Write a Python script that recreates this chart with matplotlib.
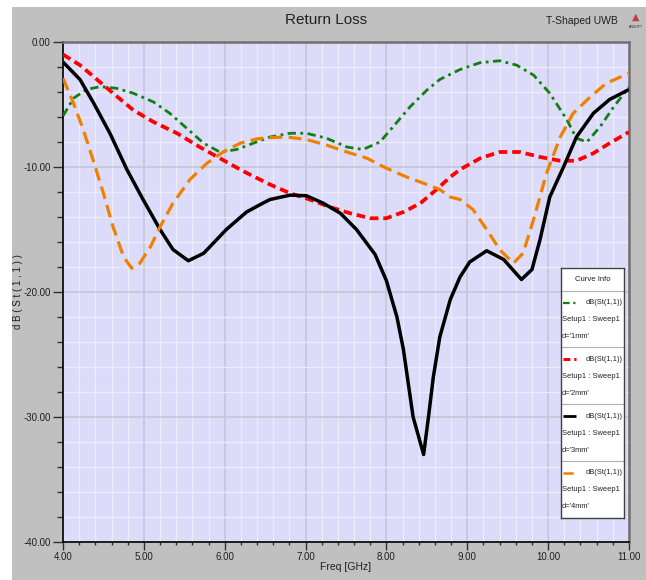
import matplotlib
matplotlib.use("Agg")
import matplotlib.pyplot as plt
from matplotlib.patches import Rectangle
from matplotlib.ticker import MultipleLocator, FormatStrFormatter

# ---- data: frequency (GHz) and return loss dB(S(1,1)) for each slot width d ----
freq_d1 = [4.00, 4.02, 4.13, 4.29, 4.46, 4.66, 4.87, 5.12, 5.32, 5.53, 5.74, 5.94,
           6.15, 6.31, 6.56, 6.81, 7.01, 7.26, 7.51, 7.71, 7.92, 8.08, 8.29, 8.50,
           8.66, 8.91, 9.16, 9.40, 9.61, 9.82, 10.02, 10.23, 10.35, 10.48, 10.64,
           10.81, 11.00]
db_d1 = [-5.9, -5.7, -4.5, -3.8, -3.57, -3.7, -4.1, -4.8, -5.7, -6.9, -8.1, -8.8,
         -8.6, -8.2, -7.6, -7.3, -7.3, -7.7, -8.4, -8.6, -8.0, -6.8, -5.2, -3.85,
         -3.0, -2.2, -1.65, -1.5, -1.85, -2.65, -4.1, -6.2, -7.7, -8.0, -6.8,
         -5.2, -3.6]

freq_d2 = [4.00, 4.21, 4.42, 4.62, 4.87, 5.12, 5.41, 5.69, 5.94, 6.19, 6.31, 6.56,
           6.81, 7.05, 7.30, 7.55, 7.80, 8.00, 8.21, 8.42, 8.62, 8.79, 8.91, 9.16,
           9.40, 9.65, 9.90, 10.15, 10.35, 10.56, 10.76, 11.00]
db_d2 = [-1.0, -1.85, -3.0, -4.1, -5.45, -6.4, -7.3, -8.4, -9.3, -10.2, -10.6, -11.4,
         -12.1, -12.6, -13.2, -13.7, -14.1, -14.1, -13.6, -12.9, -11.8, -10.8, -10.2,
         -9.3, -8.8, -8.8, -9.2, -9.5, -9.5, -8.9, -8.1, -7.2]

freq_d3 = [4.00, 4.21, 4.38, 4.58, 4.79, 4.99, 5.20, 5.36, 5.55, 5.74, 6.02, 6.27,
           6.44, 6.56, 6.81, 7.01, 7.22, 7.43, 7.63, 7.86, 8.00, 8.13, 8.21, 8.27,
           8.33, 8.46, 8.52, 8.58, 8.66, 8.79, 8.91, 9.03, 9.24, 9.45, 9.67, 9.80,
           9.90, 10.02, 10.19, 10.35, 10.56, 10.76, 11.00]
db_d3 = [-1.6, -3.0, -4.9, -7.3, -10.2, -12.6, -15.0, -16.6, -17.5, -16.9, -15.0, -13.6,
         -13.0, -12.6, -12.25, -12.3, -12.9, -13.7, -15.0, -17.0, -19.1, -22.0, -24.6,
         -27.3, -30.0, -33.0, -30.0, -26.8, -23.6, -20.6, -18.8, -17.6, -16.7, -17.4,
         -19.0, -18.2, -15.8, -12.4, -10.0, -7.6, -5.7, -4.6, -3.8]

freq_d4 = [4.00, 4.13, 4.25, 4.37, 4.50, 4.62, 4.75, 4.85, 4.95, 5.08, 5.20, 5.36,
           5.57, 5.78, 5.98, 6.19, 6.40, 6.56, 6.77, 7.01, 7.26, 7.51, 7.76, 8.00,
           8.25, 8.50, 8.66, 8.79, 8.91, 9.07, 9.24, 9.40, 9.57, 9.69, 9.82, 9.98,
           10.15, 10.31, 10.52, 10.72, 11.00]
db_d4 = [-2.9, -4.9, -7.0, -9.4, -12.1, -14.8, -17.2, -18.1, -17.7, -16.4, -14.8, -12.9,
         -11.0, -9.7, -8.8, -8.1, -7.75, -7.65, -7.6, -7.8, -8.25, -8.8, -9.3, -10.1,
         -10.8, -11.4, -11.8, -12.4, -12.6, -13.4, -15.0, -16.6, -17.7, -16.9, -14.2,
         -10.5, -7.6, -5.7, -4.4, -3.3, -2.5]

trace_name = "dB(St(1,1))"
sweep_name = "Setup1 : Sweep1"
variants = ["d='1mm'", "d='2mm'", "d='3mm'", "d='4mm'"]
x_ticks = [4.0, 5.0, 6.0, 7.0, 8.0, 9.0, 10.0, 11.0]
y_ticks = [0.0, -10.0, -20.0, -30.0, -40.0]

plt.rcParams["font.family"] = ["Liberation Sans", "DejaVu Sans"]
TXT = "#202020"

W, H = 646, 580
fig = plt.figure(figsize=(W / 100, H / 100), dpi=100)
fig.patch.set_facecolor("white")

# grey report panel
fig.patches.append(Rectangle((12 / W, 0), 1 - 12 / W, 1 - 7 / H,
                             transform=fig.transFigure, facecolor="#c0c0c0",
                             edgecolor="none", zorder=-10))

ax = fig.add_axes([63 / W, 1 - 542 / H, (629 - 63) / W, (542 - 42) / H])
ax.set_facecolor("#dcdcfa")

styles = [
    dict(color="#108010", lw=2.0, dashes=(3.0, 1.6, 1.0, 1.6)),
    dict(color="#ff0000", lw=2.7, dashes=(2.3, 1.3)),
    dict(color="#000000", lw=2.5),
    dict(color="#f08000", lw=2.3, dashes=(4.0, 2.0)),
]
series = [(freq_d1, db_d1), (freq_d2, db_d2), (freq_d3, db_d3), (freq_d4, db_d4)]
for (fx, fy), st in zip(series, styles):
    ax.plot(fx, fy, **st, solid_capstyle="butt", dash_capstyle="butt",
            solid_joinstyle="round", zorder=3)

ax.set_xlim(4.0, 11.0)
ax.set_ylim(-40.0, 0.0)
ax.set_xticks(x_ticks)
ax.set_yticks(y_ticks)
ax.xaxis.set_minor_locator(MultipleLocator(0.2))
ax.yaxis.set_minor_locator(MultipleLocator(2.0))
ax.xaxis.set_major_formatter(FormatStrFormatter("%.2f"))
ax.yaxis.set_major_formatter(FormatStrFormatter("%.2f"))

ax.grid(which="minor", color="#ececfb", lw=0.9, zorder=0)
ax.grid(which="major", color="#c6c6d6", lw=1.2, zorder=0)
ax.set_axisbelow(True)

ax.tick_params(axis="y", which="major", direction="out", length=7, width=1.0,
               color="#303030", labelsize=7, pad=2, labelcolor=TXT)
ax.tick_params(axis="y", which="minor", direction="out", length=4, width=1.0,
               color="#303030")
ax.tick_params(axis="x", which="major", direction="out", length=6, width=1.0,
               color="#303030", labelsize=7, pad=1, labelcolor=TXT)
ax.tick_params(axis="x", which="minor", direction="out", length=2.5, width=1.0,
               color="#303030")

for side in ("left", "bottom"):
    ax.spines[side].set_color("#000000")
    ax.spines[side].set_linewidth(1.2)
for side in ("top", "right"):
    ax.spines[side].set_color("#707070")
    ax.spines[side].set_linewidth(1.8)

ax.set_xlabel("Freq [GHz]", fontsize=7.5, labelpad=0, color=TXT)
fig.text(18 / W, 1 - 292 / H, "d B ( S t ( 1 , 1 ) )", rotation=90,
         ha="center", va="center", fontsize=7, color=TXT)

# header texts
fig.text(326 / W, 1 - 20 / H, "Return Loss", ha="center", va="center",
         fontsize=11, color=TXT)
fig.text(618 / W, 1 - 21 / H, "T-Shaped UWB", ha="right", va="center",
         fontsize=7.5, color=TXT)
fig.text(636 / W, 1 - 17 / H, "\u25B2", ha="center", va="center",
         fontsize=7, color="#c04040", family=["DejaVu Sans"])
fig.text(636 / W, 1 - 27 / H, "ANSOFT", ha="center", va="center",
         fontsize=2.5, color="#303030")

# curve info box
lx0, ly0, lx1, ly1 = 561, 268, 624, 518
lg = fig.add_axes([lx0 / W, 1 - ly1 / H, (lx1 - lx0) / W, (ly1 - ly0) / H])
lg.set_xlim(0, lx1 - lx0)
lg.set_ylim(ly1 - ly0, 0)
lg.set_facecolor("white")
lg.set_xticks([])
lg.set_yticks([])
for sp in lg.spines.values():
    sp.set_color("#404040")
    sp.set_linewidth(1.0)
lg.text((lx1 - lx0) / 2, 11.5, "Curve Info", ha="center", va="center",
        fontsize=5.6, color=TXT)
row_h = 56.75
top0 = 22.7
for i, (st, var) in enumerate(zip(styles, variants)):
    y0 = top0 + i * row_h
    lg.plot([0, lx1 - lx0], [y0, y0], color="#b0b0b0", lw=0.8)
    kw = dict(color=st["color"], lw=st["lw"] * 0.8)
    if "dashes" in st:
        kw["dashes"] = st["dashes"]
    lg.plot([2, 15], [y0 + 12, y0 + 12], solid_capstyle="butt",
            dash_capstyle="butt", **kw)
    lg.text(61.5, y0 + 12, trace_name, ha="right", va="center", fontsize=5.4,
            color=TXT)
    lg.text(1.0, y0 + 29, sweep_name, ha="left", va="center", fontsize=5.4,
            color=TXT)
    lg.text(1.0, y0 + 46, var, ha="left", va="center", fontsize=5.4,
            color=TXT)

fig.savefig("out.png", dpi=100)
